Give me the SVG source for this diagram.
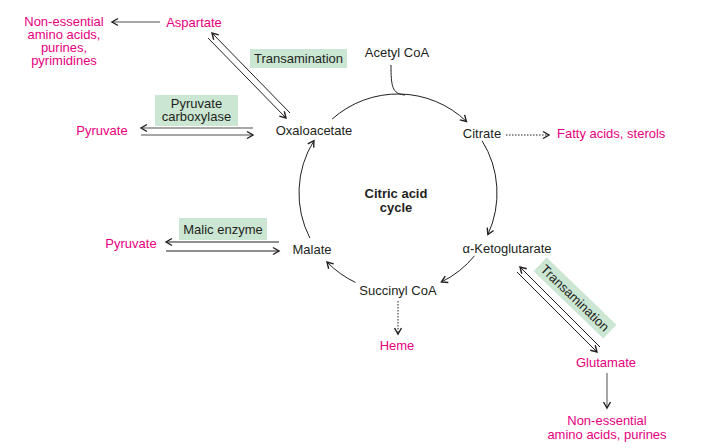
<svg xmlns="http://www.w3.org/2000/svg" width="706" height="448" viewBox="0 0 706 448">
<defs>
<marker id="ah" markerWidth="10" markerHeight="10" refX="7" refY="4" orient="auto" markerUnits="userSpaceOnUse" viewBox="0 0 10 8">
<path d="M1,0.5 L7,4 L1,7.5" fill="none" stroke="#231f20" stroke-width="1.4"/>
</marker>
</defs>
<style>
text{font-family:"Liberation Sans",Arial,sans-serif;font-size:13px;fill:#231f20}
.m{fill:#e6007e}
.b{font-weight:bold}
.box{fill:#cbe7d3}
.ln{fill:none;stroke:#231f20;stroke-width:1}
.g{fill:none;stroke:#8a8a8a;stroke-width:1.5}
.d{fill:none;stroke:#231f20;stroke-width:1;stroke-dasharray:1.5 1.5}
</style>
<rect width="706" height="448" fill="#fff"/>
<g id="connectors">
<path class="ln" d="M332.2,119 A99,99 0 0 1 466.5,121.5" marker-end="url(#ah)"/>
<path class="ln" d="M482.1,140.8 A99,99 0 0 1 487.9,234.5" marker-end="url(#ah)"/>
<path class="ln" d="M474.5,255.8 A99,99 0 0 1 441.4,282" marker-end="url(#ah)"/>
<path class="ln" d="M355.4,282.4 A99,99 0 0 1 327,262" marker-end="url(#ah)"/>
<path class="ln" d="M309.9,238.1 A99,99 0 0 1 313.9,140.7" marker-end="url(#ah)"/>
<path class="ln" d="M391,65 C391,86 392,94 405,95"/>
<path class="g" d="M160,22 L112,22" marker-end="url(#ah)"/>
<path class="ln" d="M290,113 L212,33" marker-end="url(#ah)"/>
<path class="ln" d="M208,38 L286,118" marker-end="url(#ah)"/>
<path class="g" d="M253,128 L141,128" marker-end="url(#ah)"/>
<path class="g" d="M141,135 L253,135" marker-end="url(#ah)"/>
<path class="d" d="M506,135 L549,135" marker-end="url(#ah)"/>
<path class="ln" d="M279,242 L166,242" marker-end="url(#ah)"/>
<path class="ln" d="M166,251 L279,251" marker-end="url(#ah)"/>
<path class="d" d="M398,301 L398,334" marker-end="url(#ah)"/>
<path class="ln" d="M600,347 L520,267" marker-end="url(#ah)"/>
<path class="ln" d="M517,272 L597,352" marker-end="url(#ah)"/>
<path class="g" d="M607,373 L607,408" marker-end="url(#ah)"/>
</g>
<g id="nonessential1">
<text class="m" x="64" y="26" text-anchor="middle">Non-essential</text>
<text class="m" x="64" y="39" text-anchor="middle">amino acids,</text>
<text class="m" x="64" y="52" text-anchor="middle">purines,</text>
<text class="m" x="64" y="65" text-anchor="middle">pyrimidines</text>
</g>
<g id="aspartate"><text class="m" x="194" y="27" text-anchor="middle">Aspartate</text></g>
<g id="transamination1">
<rect class="box" x="250" y="49" width="97" height="19"/>
<text x="298.5" y="63" text-anchor="middle">Transamination</text>
</g>
<g id="acetylcoa"><text x="397" y="57" text-anchor="middle">Acetyl CoA</text></g>
<g id="pyruvatecarboxylase">
<rect class="box" x="155" y="95" width="83" height="31"/>
<text x="196.5" y="108" text-anchor="middle">Pyruvate</text>
<text x="196.5" y="121" text-anchor="middle">carboxylase</text>
</g>
<g id="pyruvate1"><text class="m" x="102" y="135" text-anchor="middle">Pyruvate</text></g>
<g id="oxaloacetate"><text x="314" y="135" text-anchor="middle">Oxaloacetate</text></g>
<g id="citrate"><text x="482" y="138" text-anchor="middle">Citrate</text></g>
<g id="fattyacids"><text class="m" x="557" y="138">Fatty acids, sterols</text></g>
<g id="cycle">
<text class="b" x="396" y="198" text-anchor="middle">Citric acid</text>
<text class="b" x="396" y="212" text-anchor="middle">cycle</text>
</g>
<g id="malicenzyme">
<rect class="box" x="179" y="218" width="88" height="22"/>
<text x="223" y="234" text-anchor="middle">Malic enzyme</text>
</g>
<g id="pyruvate2"><text class="m" x="131" y="248" text-anchor="middle">Pyruvate</text></g>
<g id="malate"><text x="312" y="254" text-anchor="middle">Malate</text></g>
<g id="aketoglutarate"><text x="507" y="253" text-anchor="middle">α-Ketoglutarate</text></g>
<g id="succinylcoa"><text x="398" y="295" text-anchor="middle">Succinyl CoA</text></g>
<g id="heme"><text class="m" x="397" y="350" text-anchor="middle">Heme</text></g>
<g id="transamination2" transform="translate(575,298) rotate(44)">
<rect class="box" x="-48.5" y="-9.5" width="97" height="19"/>
<text x="0" y="4.5" text-anchor="middle">Transamination</text>
</g>
<g id="glutamate"><text class="m" x="606" y="367" text-anchor="middle">Glutamate</text></g>
<g id="nonessential2">
<text class="m" x="607" y="425" text-anchor="middle">Non-essential</text>
<text class="m" x="607" y="439" text-anchor="middle">amino acids, purines</text>
</g>
</svg>
